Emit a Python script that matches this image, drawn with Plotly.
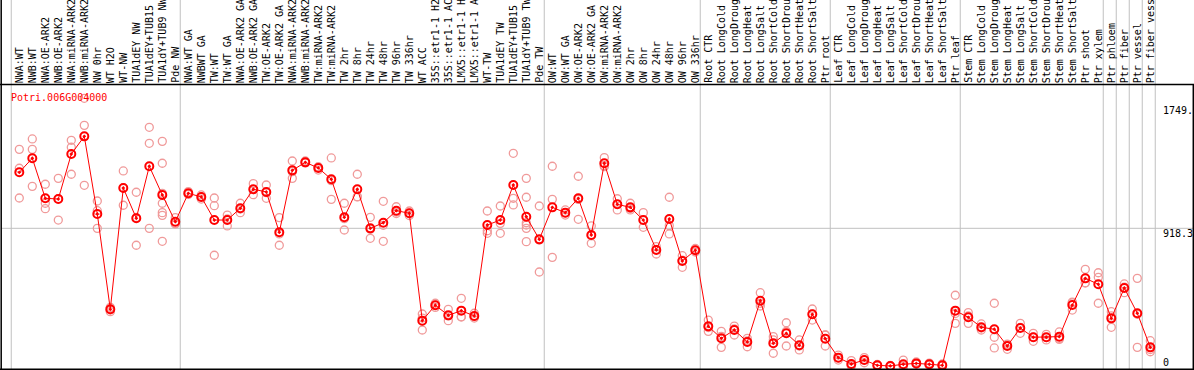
import plotly.graph_objects as go

W, H = 1194, 370

categories = [
    "NWA:WT", "NWB:WT", "NWA:OE-ARK2", "NWB:OE-ARK2", "NWA:miRNA-ARK2", "NWB:miRNA-ARK2",
    "NW 0hr", "WT H2O", "WT-NW", "TUA1dEY NW", "TUA1dEY+TUB15 ", "TUA1dY+TUB9 NW", "Pde NW",
    "NWA:WT GA", "NWBWT GA", "TW:WT", "TW:WT GA", "NWA:OE-ARK2 GA", "NWB:OE-ARK2 GA",
    "TW:OE-ARK2", "TW:OE-ARK2 GA", "NWA:miRNA-ARK2", "NWB:miRNA-ARK2", "TW:miRNA-ARK2",
    "TW:miRNA-ARK2", "TW 2hr", "TW 8hr", "TW 24hr", "TW 48hr", "TW 96hr", "TW 336hr",
    "WT ACC", "35S::etr1-1 H2", "35S::etr1-1 AC", "LMX5::etr1-1 H", "LMX5::etr1-1 A",
    "WT-TW", "TUA1dEY TW", "TUA1dEY+TUB15 ", "TUA1dY+TUB9 TW", "Pde TW",
    "OW:WT", "OW:WT GA", "OW:OE-ARK2", "OW:OE-ARK2 GA", "OW:miRNA-ARK2", "OW:miRNA-ARK2",
    "OW 2hr", "OW 8hr", "OW 24hr", "OW 48hr", "OW 96hr", "OW 336hr",
    "Root CTR", "Root LongCold", "Root LongDroug", "Root LongHeat", "Root LongSalt",
    "Root ShortCold", "Root ShortDrou", "Root ShortHeat", "Root ShortSalt", "Ptr root",
    "Leaf CTR", "Leaf LongCold", "Leaf LongDroug", "Leaf LongHeat", "Leaf LongSalt",
    "Leaf ShortCold", "Leaf ShortDrou", "Leaf ShortHeat", "Leaf ShortSalt", "Ptr leaf",
    "Stem CTR", "Stem LongCold", "Stem LongDroug", "Stem LongHeat", "Stem LongSalt",
    "Stem ShortCold", "Stem ShortDrou", "Stem ShortHeat", "Stem ShortSalt", "Ptr shoot",
    "Ptr xylem", "Ptr phloem", "Ptr fiber", "Ptr vessel", "Ptr fiber vess",
]

mean_values = [
    1289, 1382, 1117, 1112, 1410, 1527, 1013, 382, 1185, 985, 1329, 1139, 962,
    1150, 1126, 973, 973, 1051, 1177, 1159, 892, 1302, 1355, 1318, 1243, 991, 1177,
    918, 955, 1035, 1018, 307, 409, 342, 373, 338, 940, 973, 1205, 995, 845,
    1057, 1022, 1117, 874, 1349, 1077, 1057, 973, 775, 980, 702, 773,
    269, 190, 245, 166, 439, 157, 223, 144, 349, 187,
    62, 20, 46, 11, 7, 18, 24, 18, 11, 373,
    329, 263, 250, 139, 258, 197, 197, 201, 410, 587, 548,
    322, 523, 356, 130,
]

replicate_values = [
    [1441, 1316, 1119], [1510, 1441, 1196], [1210, 1084, 1048], [1249, 1114, 973],
    [1501, 1455, 1276], [1779, 1600, 1203], [1099, 1035, 918], [395, 377, 366],
    [1298, 1071, 1187], [1157, 806, 990], [1587, 1481, 918],
    [1494, 1349, 1150, 1084, 1022, 1004, 832], [989, 951, 947],
    [1161, 1145, 1143], [1139, 1126, 1112], [1119, 1068, 740], [1006, 934, 980],
    [1084, 1022, 1046], [1214, 1141, 1175], [1205, 1117, 1154], [989, 806, 881],
    [1364, 1249, 1293], [1364, 1351, 1354], [1326, 1304, 1321], [1384, 1110, 1234],
    [1084, 907, 982], [1276, 1128, 1126], [991, 852, 912], [1097, 832, 938],
    [1061, 1026, 1016], [1033, 1003, 1018], [351, 245, 324], [422, 395, 409],
    [382, 307, 338], [455, 333, 331], [356, 324, 333], [1033, 885, 902],
    [1066, 885, 951], [1415, 1117, 1073], [1249, 1124, 955, 940, 918, 830],
    [1066, 629, 841], [1329, 1110, 726],
    [1040, 1020, 1006], [1263, 978, 1110], [934, 819, 869], [1386, 1326, 1333],
    [1114, 1040, 1077], [1084, 1040, 1049], [1022, 925, 973], [797, 748, 779],
    [1124, 881, 936], [737, 660, 707], [785, 773, 761],
    [311, 236, 261], [236, 130, 203], [271, 212, 252], [190, 134, 172],
    [492, 404, 422], [201, 91, 179], [293, 139, 236], [179, 113, 139],
    [384, 311, 351], [212, 139, 212],
    [79, 60, 46], [42, 7, 10], [62, 28, 46], [17, 7, 10], [3, 7, 10],
    [46, 7, 0], [33, 20, 20], [26, 13, 13], [20, 7, 7], [475, 289, 355],
    [360, 289, 338], [285, 245, 258], [422, 197, 126], [117, 152, 146],
    [289, 223, 262], [223, 170, 197], [216, 179, 195], [232, 183, 189],
    [430, 377, 424], [647, 558, 556], [624, 594, 422],
    [366, 263, 338], [550, 492, 528], [587, 130, 349], [174, 101, 116],
]

group_starts = [0, 13, 41, 53, 63, 73, 84, 85, 86, 87, 88]
axis_labels = ["1749.", "918.3", "0"]
grid_value = 918.3
title_text = "Potri.006G004000"

# pixel geometry helpers
X0, DX = 19.3, 13.0          # pixel x of first category, spacing
Y0, SY = 367.0, 0.15104      # pixel y of value 0, pixels per unit


def px_to_x(p):
    return (p - X0) / DX


def py_to_paper(p):
    return 1 - p / H


xs = list(range(len(categories)))

rx, ry = [], []
for i, reps in enumerate(replicate_values):
    for v in reps:
        rx.append(i)
        ry.append(v)

fig = go.Figure()
fig.add_trace(go.Scatter(
    x=rx, y=ry, mode="markers", hoverinfo="skip",
    marker=dict(symbol="circle-open", size=8, color="#f09a9a", line=dict(width=1.3, color="#f09a9a")),
    showlegend=False, cliponaxis=False,
))
fig.add_trace(go.Scatter(
    x=xs, y=mean_values, mode="lines+markers",
    line=dict(color="#ff0000", width=1),
    marker=dict(symbol="circle-open-dot", size=8, color="#ff0000", line=dict(width=2, color="#ff0000")),
    showlegend=False, cliponaxis=False,
))

shapes = []
grey = "#c0c0c0"
for g in group_starts:
    shapes.append(dict(type="line", xref="x", yref="paper", x0=g - 0.62, x1=g - 0.62,
                       y0=py_to_paper(369), y1=1, line=dict(color=grey, width=1), layer="below"))
shapes.append(dict(type="line", xref="paper", yref="y", x0=1.5 / W, x1=1193 / W,
                   y0=grid_value, y1=grid_value, line=dict(color=grey, width=1), layer="below"))
# borders
shapes.append(dict(type="line", xref="paper", yref="paper", x0=0, x1=1,
                   y0=py_to_paper(84.5), y1=py_to_paper(84.5), line=dict(color="black", width=1.5)))
shapes.append(dict(type="line", xref="paper", yref="paper", x0=0, x1=1,
                   y0=py_to_paper(369.3), y1=py_to_paper(369.3), line=dict(color="black", width=1.5)))
shapes.append(dict(type="line", xref="paper", yref="paper", x0=1.2 / W, x1=1.2 / W,
                   y0=py_to_paper(370), y1=1, line=dict(color="black", width=1.5)))
shapes.append(dict(type="line", xref="paper", yref="paper", x0=1193.3 / W, x1=1193.3 / W,
                   y0=py_to_paper(370), y1=py_to_paper(84), line=dict(color="black", width=1.5)))

mono = "DejaVu Sans Mono"
annotations = []
for i, c in enumerate(categories):
    annotations.append(dict(x=i, y=py_to_paper(84), xref="x", yref="paper", text=c,
                            textangle=-90, xanchor="center", yanchor="bottom", showarrow=False,
                            font=dict(family=mono, size=10, color="black"), borderpad=0))
annotations.append(dict(x=10 / W, y=py_to_paper(97), xref="paper", yref="paper", text=title_text,
                        xanchor="left", yanchor="middle", showarrow=False,
                        font=dict(family=mono, size=10, color="#ff0000"), borderpad=0))
for lab, py in zip(axis_labels, [110, 233, 362]):
    annotations.append(dict(x=1162 / W, y=py_to_paper(py), xref="paper", yref="paper", text=lab,
                            xanchor="left", yanchor="middle", showarrow=False,
                            font=dict(family=mono, size=10, color="black"), borderpad=0))

fig.update_layout(
    width=W, height=H, margin=dict(l=0, r=0, t=0, b=0),
    paper_bgcolor="white", plot_bgcolor="white",
    xaxis=dict(range=[px_to_x(0), px_to_x(W)], visible=False, fixedrange=True),
    yaxis=dict(range=[(Y0 - H) / SY, Y0 / SY], visible=False, fixedrange=True),
    shapes=shapes, annotations=annotations,
)

fig.write_html("out.html", config={"displayModeBar": False},
               post_script="document.body.style.margin='0';document.body.style.overflow='hidden';")
